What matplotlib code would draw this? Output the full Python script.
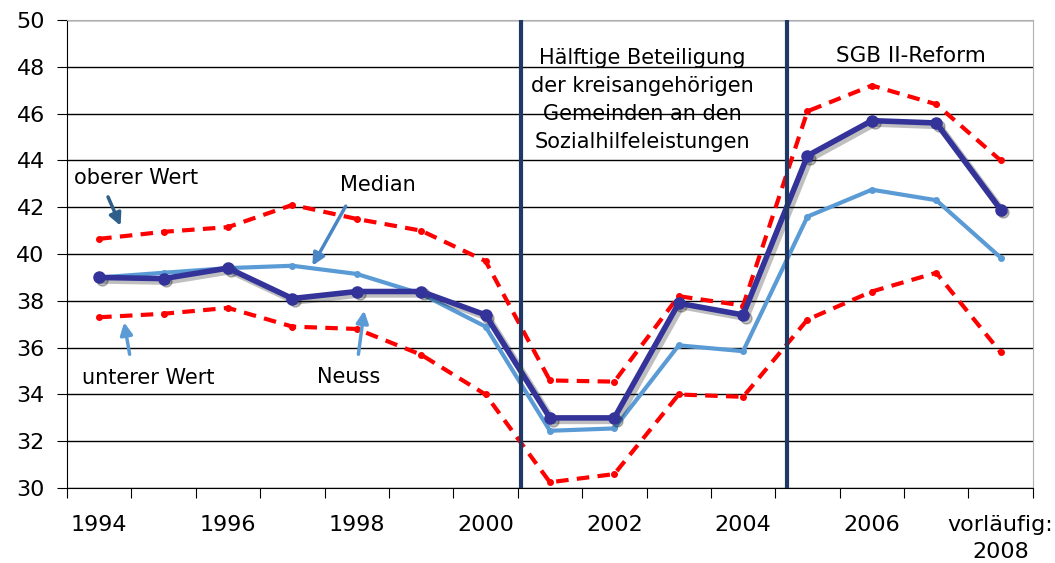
import numpy as np
import matplotlib
matplotlib.use("Agg")
import matplotlib.pyplot as plt
import matplotlib.transforms as mtransforms

years = list(range(1994, 2009))
tick_labels = ["1994", "", "1996", "", "1998", "", "2000", "", "2002", "", "2004", "", "2006", "", "vorläufig:\n2008"]

neuss = [39.0, 38.95, 39.4, 38.1, 38.4, 38.4, 37.4, 33.0, 33.0, 37.9, 37.4, 44.2, 45.7, 45.6, 41.9]
median = [39.0, 39.2, 39.4, 39.5, 39.15, 38.3, 36.9, 32.45, 32.55, 36.1, 35.85, 41.6, 42.75, 42.3, 39.85]
oberer = [40.65, 40.95, 41.15, 42.1, 41.5, 41.0, 39.7, 34.6, 34.55, 38.2, 37.8, 46.1, 47.2, 46.4, 44.0]
unterer = [37.3, 37.45, 37.7, 36.9, 36.8, 35.7, 34.0, 30.25, 30.6, 34.0, 33.9, 37.2, 38.4, 39.2, 35.8]

plt.rcParams['font.family'] = ['DejaVu Sans']

fig = plt.figure(figsize=(10.55, 5.63), dpi=100)
ax = fig.add_axes([0.0635, 0.133, 0.9155, 0.8315])

x = np.arange(len(years))

# grid
ax.set_ylim(30, 50)
ax.set_xlim(-0.5, len(years) - 0.5)
ax.set_yticks(np.arange(30, 51, 2))
ax.yaxis.grid(True, color="black", linewidth=1)
ax.set_axisbelow(True)

# Grenzlinien
ax.plot(x, oberer, color="#ff0000", linestyle=(0, (3, 2)), linewidth=3, marker="o", markersize=4, zorder=3)
ax.plot(x, unterer, color="#ff0000", linestyle=(0, (3, 2)), linewidth=3, marker="o", markersize=4, zorder=3)
ax.plot(x, median, color="#5b9bd5", linewidth=3, marker="o", markersize=4, zorder=4)

# Neuss mit Schatten
shadow = ax.transData + mtransforms.ScaledTranslation(2 / 72, -2 / 72, fig.dpi_scale_trans)
ax.plot(x, neuss, color="#000000", alpha=0.25, linewidth=5, marker="o", markersize=8,
        transform=shadow, zorder=4.5)
ax.plot(x, neuss, color="#333399", linewidth=4, marker="o", markersize=8, zorder=5)

# Reform-Linien
ax.axvline(6.55, color="#1f3864", linewidth=3, zorder=6)
ax.axvline(10.68, color="#1f3864", linewidth=3, zorder=6)

ax.text(8.44, 48.8, "Hälftige Beteiligung\nder kreisangehörigen\nGemeinden an den\nSozialhilfeleistungen",
        ha="center", va="top", fontsize=15, linespacing=1.5)
ax.text(12.6, 48.45, "SGB II-Reform", ha="center", va="center", fontsize=15.5)

# Beschriftungen mit Pfeilen
ax.text(0.57, 43.25, "oberer Wert", ha="center", va="center", fontsize=15)
ax.annotate("", xy=(0.35, 41.1), xytext=(0.12, 42.55),
            arrowprops=dict(arrowstyle="-|>", color="#2e5f8a", lw=2.5, mutation_scale=18))
ax.text(0.76, 34.7, "unterer Wert", ha="center", va="center", fontsize=15)
ax.annotate("", xy=(0.38, 37.2), xytext=(0.48, 35.6),
            arrowprops=dict(arrowstyle="-|>", color="#5b9bd5", lw=2.5, mutation_scale=18))
ax.text(4.33, 42.95, "Median", ha="center", va="center", fontsize=15)
ax.annotate("", xy=(3.29, 39.4), xytext=(3.85, 42.15),
            arrowprops=dict(arrowstyle="-|>", color="#4a86c5", lw=2.5, mutation_scale=18))
ax.text(3.88, 34.74, "Neuss", ha="center", va="center", fontsize=15)
ax.annotate("", xy=(4.12, 37.7), xytext=(4.02, 35.6),
            arrowprops=dict(arrowstyle="-|>", color="#5b9bd5", lw=2.5, mutation_scale=18))

# Achsen
ax.set_xticks(np.arange(-0.5, len(years)), minor=False)
ax.set_xticklabels([])
ax.set_xticks(x, minor=True)
ax.set_xticklabels(tick_labels, minor=True, fontsize=16, va="top", linespacing=1.45)
ax.tick_params(axis="x", which="major", length=7, color="black")
ax.tick_params(axis="x", which="minor", length=0, pad=19)
ax.tick_params(axis="y", length=7, labelsize=16, pad=9)
ax.spines["left"].set_color("black")
ax.spines["bottom"].set_color("black")
ax.spines["top"].set_color("#b0b0b0")
ax.spines["right"].set_color("#b0b0b0")

fig.savefig("out.png", dpi=100)
